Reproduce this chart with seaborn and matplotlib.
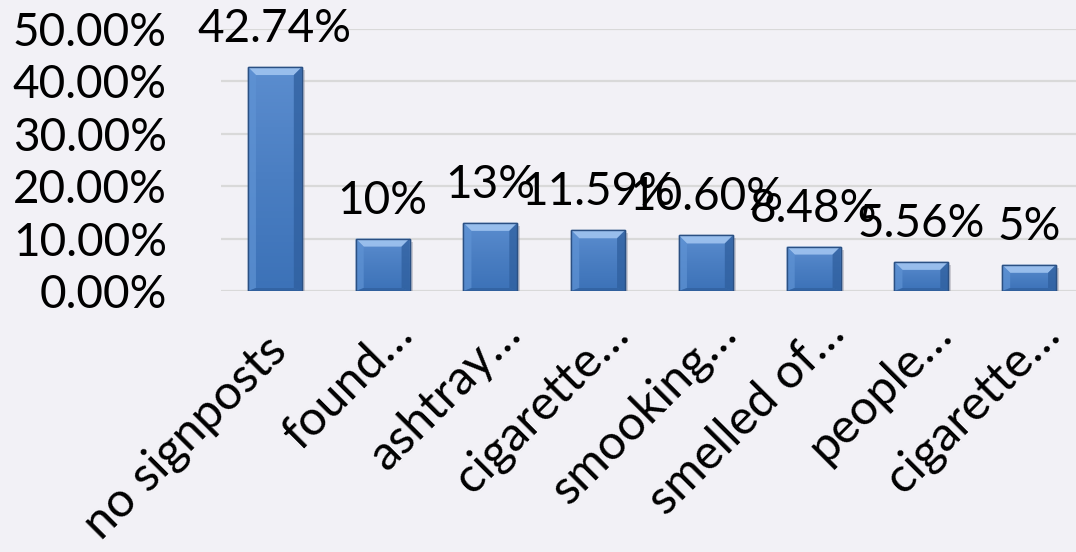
import numpy as np
import pandas as pd
import matplotlib
matplotlib.use("Agg")
import matplotlib.pyplot as plt
import matplotlib.transforms as mtransforms
from matplotlib.patches import Polygon
from matplotlib.colors import LinearSegmentedColormap
import seaborn as sns

# ---- data ----
categories = ["no signposts", "found…", "ashtray…", "cigarette…",
              "smooking…", "smelled of…", "people…", "cigarette…"]
shares = [42.74, 10.0, 13.0, 11.59, 10.60, 8.48, 5.56, 5.0]
value_labels = ["42.74%", "10%", "13%", "11.59%", "10.60%", "8.48%", "5.56%", "5%"]
y_ticks = [0, 10, 20, 30, 40, 50]
y_tick_labels = ["0.00%", "10.00%", "20.00%", "30.00%", "40.00%", "50.00%"]

BG = "#F2F1F6"
GRID = "#D9D9D9"
FONT = ["Lato", "DejaVu Sans"]
FS = 33
FS_CAT = 35

sns.set_theme(style="white")
plt.rcParams["font.family"] = FONT

fig = plt.figure(figsize=(10.76, 5.52), dpi=100)
fig.patch.set_facecolor(BG)
W, H = 1076, 552
ax = fig.add_axes([221 / W, (H - 291) / H, 862 / W, 262 / H])
ax.set_facecolor(BG)

df = pd.DataFrame({"cat": [f"{i}" for i in range(len(categories))], "share": shares})
sns.barplot(data=df, x="cat", y="share", color="#4A7EC2", width=0.5,
            saturation=1, ax=ax, zorder=3)

ax.set_ylim(0, 50)
ax.set_xlim(-0.5, len(categories) - 0.5)
ax.set_yticks(y_ticks)
ax.set_yticklabels(y_tick_labels, fontsize=FS, color="black")
for t in ax.get_yticklabels():
    t.set_verticalalignment("center_baseline")
ax.tick_params(axis="y", length=0, pad=39)
ax.tick_params(axis="x", length=0)
ax.set_xlabel("")
ax.set_ylabel("")
for s in ax.spines.values():
    s.set_visible(False)
for yv in y_ticks:
    ax.axhline(yv, color=GRID, lw=1.6, zorder=1)

# rotated category labels, end of text anchored below each bar
ax.set_xticks(range(len(categories)))
ax.set_xticklabels([])
for i, lab in enumerate(categories):
    if lab.endswith("…"):
        dx, dy = 0.33, -0.45
    else:
        dx, dy = 0.14, -0.62
    off = mtransforms.ScaledTranslation(dx, dy, fig.dpi_scale_trans)
    ax.text(i, 0, lab, rotation=45, rotation_mode="anchor", ha="right",
            va="baseline", fontsize=FS_CAT, color="black",
            transform=ax.transData + off, clip_on=False)

# value labels above bars
for i, (v, t) in enumerate(zip(shares, value_labels)):
    ax.annotate(t, (i, v), xytext=(0, 18), textcoords="offset points",
                ha="center", va="baseline", fontsize=FS, color="black",
                zorder=5, annotation_clip=False)

# bevelled gradient fill on every bar
fig.canvas.draw()
grad = LinearSegmentedColormap.from_list("g", ["#3C72B8", "#4A7EC2", "#5B8DCF"])
b = 8  # bevel width in pixels
for p in ax.patches:
    bb = p.get_window_extent()
    x0, x1, y0, y1 = bb.x0, bb.x1, bb.y0, bb.y1
    p.set_edgecolor("#2F5A8F")
    p.set_linewidth(1.0)
    img = ax.imshow(np.linspace(0, 1, 64).reshape(-1, 1), cmap=grad,
                    origin="lower", aspect="auto",
                    extent=[p.get_x(), p.get_x() + p.get_width(), 0, p.get_height()],
                    zorder=3.5)
    img.set_clip_path(p)
    top = [(x0, y1), (x1, y1), (x1 - b, y1 - b), (x0 + b, y1 - b)]
    left = [(x0, y0), (x0, y1), (x0 + b, y1 - b), (x0 + b, y0 + 3)]
    right = [(x1, y0), (x1, y1), (x1 - b, y1 - b), (x1 - b, y0 + 3)]
    bottom = [(x0, y0), (x1, y0), (x1 - b, y0 + 3), (x0 + b, y0 + 3)]
    for poly, col, a in [(top, "#9CC1EE", 0.95), (left, "#5F93D4", 0.7),
                         (right, "#2F5F9E", 0.75), (bottom, "#2E5C98", 0.6)]:
        ax.add_patch(Polygon(poly, closed=True, transform=None, facecolor=col,
                             edgecolor="none", alpha=a, zorder=3.7))
    ax.add_patch(Polygon([(x0, y0), (x1, y0), (x1, y1), (x0, y1)], closed=True,
                         transform=None, facecolor="none", edgecolor="#2B5083",
                         lw=1.0, zorder=3.8))
    # soft shadow at the right side
    ax.add_patch(Polygon([(x1, y0 - 2), (x1 + 3, y0 - 2), (x1 + 3, y1 - 3), (x1, y1 - 3)],
                         closed=True, transform=None, facecolor="#9A9AA6",
                         edgecolor="none", alpha=0.45, zorder=2.9))

ax.set_ylim(0, 50)
ax.set_xlim(-0.5, len(categories) - 0.5)
fig.savefig("out.png", dpi=100, facecolor=BG)
